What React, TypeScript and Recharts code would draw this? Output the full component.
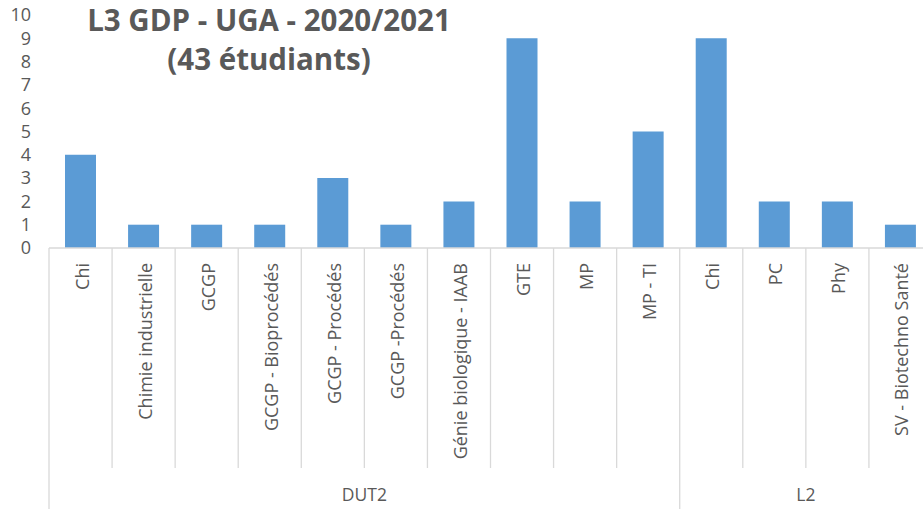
import { BarChart, Bar, XAxis, YAxis } from "recharts";

const categories = [
  "Chi",
  "Chimie industrielle",
  "GCGP",
  "GCGP - Bioprocédés",
  "GCGP - Procédés",
  "GCGP -Procédés",
  "Génie biologique - IAAB",
  "GTE",
  "MP",
  "MP - TI",
  "Chi",
  "PC",
  "Phy",
  "SV - Biotechno Santé",
];
const groups = [
  "DUT2", "DUT2", "DUT2", "DUT2", "DUT2", "DUT2", "DUT2", "DUT2", "DUT2", "DUT2",
  "L2", "L2", "L2", "L2",
];
const students = [4, 1, 1, 1, 3, 1, 2, 9, 2, 5, 9, 2, 2, 1];
const yTicks = [0, 1, 2, 3, 4, 5, 6, 7, 8, 9, 10];

const data = categories.map((name, i) => ({ key: "c" + i, name, group: groups[i], count: students[i] }));

const CHART_W = 932;
const CHART_H = 509;
const Y_W = 49;
const STEP = (CHART_W - Y_W) / categories.length;
const GRID = "#d9d9d9";
const TEXT = "#595959";
const FONT = "'Open Sans', sans-serif";

function CatTick({ x, y, payload }: any) {
  const i = payload.index;
  const axisY = y - 6; // default tickSize
  const left = x - STEP / 2;
  const groupStart = i === 0 || groups[i] !== groups[i - 1];
  const last = i === categories.length - 1;
  let groupLabel = null;
  if (groupStart) {
    let n = 0;
    while (i + n < groups.length && groups[i + n] === groups[i]) n++;
    const cx = left + (n * STEP) / 2;
    groupLabel = (
      <text x={cx} y={axisY + 246} textAnchor="middle" dominantBaseline="central" fill={TEXT} fontSize={17.5} fontFamily={FONT}>
        {groups[i]}
      </text>
    );
  }
  return (
    <g>
      <line x1={left} x2={left} y1={axisY} y2={groupStart ? CHART_H : axisY + 220} stroke={GRID} strokeWidth={1.3} />
      {last && <line x1={left + STEP} x2={left + STEP} y1={axisY} y2={CHART_H} stroke={GRID} strokeWidth={1.3} />}
      <text
        x={x + 1}
        y={axisY + 15}
        transform={`rotate(-90 ${x + 1} ${axisY + 15})`}
        textAnchor="end"
        dominantBaseline="central"
        fill={TEXT}
        fontSize={18}
        fontFamily={FONT}
      >
        {categories[i]}
      </text>
      {groupLabel}
    </g>
  );
}

export default function App() {
  return (
    <div style={{ position: "absolute", left: 0, top: 0, width: 923, height: 509, overflow: "hidden", background: "#fff" }}>
      <BarChart
        width={CHART_W}
        height={CHART_H}
        data={data}
        margin={{ top: 15, right: 0, bottom: 6, left: 0 }}
      >
        <XAxis
          dataKey="key"
          interval={0}
          tickLine={false}
          tickMargin={0}
          height={255}
          axisLine={{ stroke: GRID, strokeWidth: 1.3 }}
          tick={<CatTick />}
        />
        <YAxis
          width={Y_W}
          domain={[0, 10]}
          ticks={yTicks}
          interval={0}
          axisLine={false}
          tickLine={false}
          tickMargin={12}
          tick={{ fill: TEXT, fontSize: 18, fontFamily: FONT }}
        />
        <Bar dataKey="count" fill="#5B9BD5" barSize={31} isAnimationActive={false} />
      </BarChart>
      <div
        style={{
          position: "absolute",
          left: 69,
          top: 0,
          width: 400,
          textAlign: "center",
          fontFamily: FONT,
          fontWeight: 700,
          fontSize: 29.5,
          lineHeight: "39px",
          color: TEXT,
          whiteSpace: "nowrap",
        }}
      >
        L3 GDP - UGA - 2020/2021
        <br />
        (43 étudiants)
      </div>
    </div>
  );
}
